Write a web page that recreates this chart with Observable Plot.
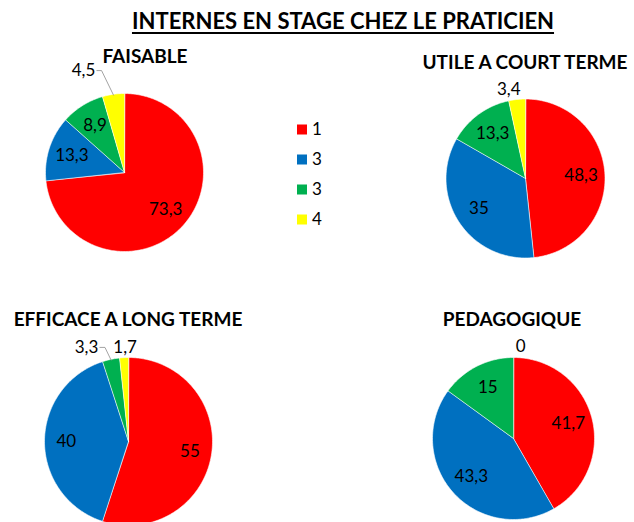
<!DOCTYPE html>
<html><head><meta charset="utf-8">
<script src="https://cdn.jsdelivr.net/npm/d3@7"></script>
<script src="https://cdn.jsdelivr.net/npm/@observablehq/plot@0.6"></script>
<style>
body{margin:0;background:#fff;}
#wrap{position:relative;width:634px;height:522px;overflow:hidden;font-family:Lato,"Open Sans",sans-serif;color:#000;}
.t{position:absolute;font-weight:bold;white-space:nowrap;transform:translate(-50%,-50%);line-height:1;}
.pie{position:absolute;}
.leg{position:absolute;left:297px;font-size:17px;}
.leg div{position:absolute;white-space:nowrap;transform:translateY(-50%);line-height:1;}
.leg span{display:inline-block;width:10px;height:10px;margin-right:5px;vertical-align:middle;position:relative;top:-1px;}
</style></head><body><div id="wrap"></div>
<script>
// ---- data ----
const seriesLabels = ["1", "3", "3", "4"];
const seriesColors = ["#FF0000", "#0070C0", "#00B050", "#FFFF00"];
const mainTitle = "INTERNES EN STAGE CHEZ LE PRATICIEN";
const chartTitles = ["FAISABLE", "UTILE A COURT TERME", "EFFICACE A LONG TERME", "PEDAGOGIQUE"];
const faisable = [73.3, 13.3, 8.9, 4.5];
const utileCourtTerme = [48.3, 35, 13.3, 3.4];
const efficaceLongTerme = [55, 40, 3.3, 1.7];
const pedagogique = [41.7, 43.3, 15, 0];
const allSeries = [faisable, utileCourtTerme, efficaceLongTerme, pedagogique];

// ---- layout (pixels / unit-radius positions) ----
const layout = [
  {cx:124, cy:172, r:79, tx:145, ty:55, inner:0.7, out:{3:{x:-0.37, y:1.29, anchor:"end", leader:true}}},
  {cx:525, cy:178, r:79.5, tx:525, ty:61, inner:0.7, out:{3:{x:-0.21, y:1.12}}},
  {cx:128, cy:441, r:84, tx:128, ty:318, inner:0.74, out:{2:{x:-0.36, y:1.12, anchor:"end", leader:true}, 3:{x:-0.04, y:1.12}}},
  {cx:513, cy:437.5, r:81, tx:512, ty:318, inner:0.7, out:{3:{x:0.09, y:1.14}}}
];

const wrap = document.getElementById("wrap");
const fmt = v => String(v).replace(".", ",");

function addDiv(cls, text, x, y, style) {
  const d = document.createElement("div");
  d.className = cls; d.textContent = text;
  d.style.left = x + "px"; d.style.top = y + "px";
  Object.assign(d.style, style || {});
  wrap.appendChild(d);
  return d;
}

addDiv("t", mainTitle, 343, 21, {fontSize:"22px", textDecoration:"underline", textDecorationThickness:"2px", textUnderlineOffset:"3px"});

allSeries.forEach((values, idx) => {
  const L = layout[idx];
  const W = 260, H = 250;
  const arcs = d3.pie().sort(null).value(d => d)(values);
  const pts = arcs.flatMap((a, i) => {
    const n = Math.max(2, Math.ceil((a.endAngle - a.startAngle) / 0.02));
    const p = [{slice:i, x:0, y:0}];
    for (let k = 0; k <= n; k++) {
      const t = a.startAngle + (a.endAngle - a.startAngle) * k / n;
      p.push({slice:i, x:Math.sin(t), y:Math.cos(t)});
    }
    return p;
  }).filter((d, j, arr) => true);
  const inLabels = [], midLabels = [], endLabels = [], leaders = [];
  arcs.forEach((a, i) => {
    const m = (a.startAngle + a.endAngle) / 2;
    const o = L.out[i];
    if (o) {
      const lab = {x:o.x, y:o.y, text:fmt(values[i])};
      (o.anchor === "end" ? endLabels : midLabels).push(lab);
      if (o.leader) {
        leaders.push({id:i, x:o.x + 0.02, y:o.y + 0.0});
        leaders.push({id:i, x:o.x + 0.08, y:o.y + 0.0});
        leaders.push({id:i, x:Math.sin(m) * 0.99, y:Math.cos(m) * 0.99});
      }
    } else {
      inLabels.push({x:Math.sin(m) * L.inner, y:Math.cos(m) * L.inner, text:fmt(values[i])});
    }
  });
  const nonEmpty = pts.filter(d => values[d.slice] > 0);
  const plot = Plot.plot({
    width: W, height: H, margin: 0,
    style: {background:"transparent", overflow:"visible"},
    x: {domain:[-W / 2 / L.r, W / 2 / L.r], axis:null},
    y: {domain:[-H / 2 / L.r, H / 2 / L.r], axis:null},
    marks: [
      Plot.line(nonEmpty, {x:"x", y:"y", z:"slice", fill:d => seriesColors[d.slice], stroke:"white", strokeWidth:0.6, curve:"linear-closed"}),
      Plot.line(leaders, {x:"x", y:"y", z:"id", stroke:"#8c8c8c", strokeWidth:0.8}),
      Plot.text(inLabels, {x:"x", y:"y", text:"text", fontSize:17, fill:"#000", fontFamily:"Lato"}),
      Plot.text(midLabels, {x:"x", y:"y", text:"text", fontSize:17, fill:"#000", fontFamily:"Lato"}),
      Plot.text(endLabels, {x:"x", y:"y", text:"text", fontSize:17, fill:"#000", fontFamily:"Lato", textAnchor:"end"})
    ]
  });
  plot.classList.add("pie");
  plot.style.left = (L.cx - W / 2) + "px";
  plot.style.top = (L.cy - H / 2) + "px";
  wrap.appendChild(plot);
  addDiv("t", chartTitles[idx], L.tx, L.ty, {fontSize:"19px"});
});

const leg = document.createElement("div");
leg.className = "leg";
seriesLabels.forEach((s, i) => {
  const d = document.createElement("div");
  d.style.top = (128 + i * 30) + "px";
  const sw = document.createElement("span");
  sw.style.background = seriesColors[i];
  d.appendChild(sw);
  d.appendChild(document.createTextNode(s));
  leg.appendChild(d);
});
wrap.appendChild(leg);
</script></body></html>
